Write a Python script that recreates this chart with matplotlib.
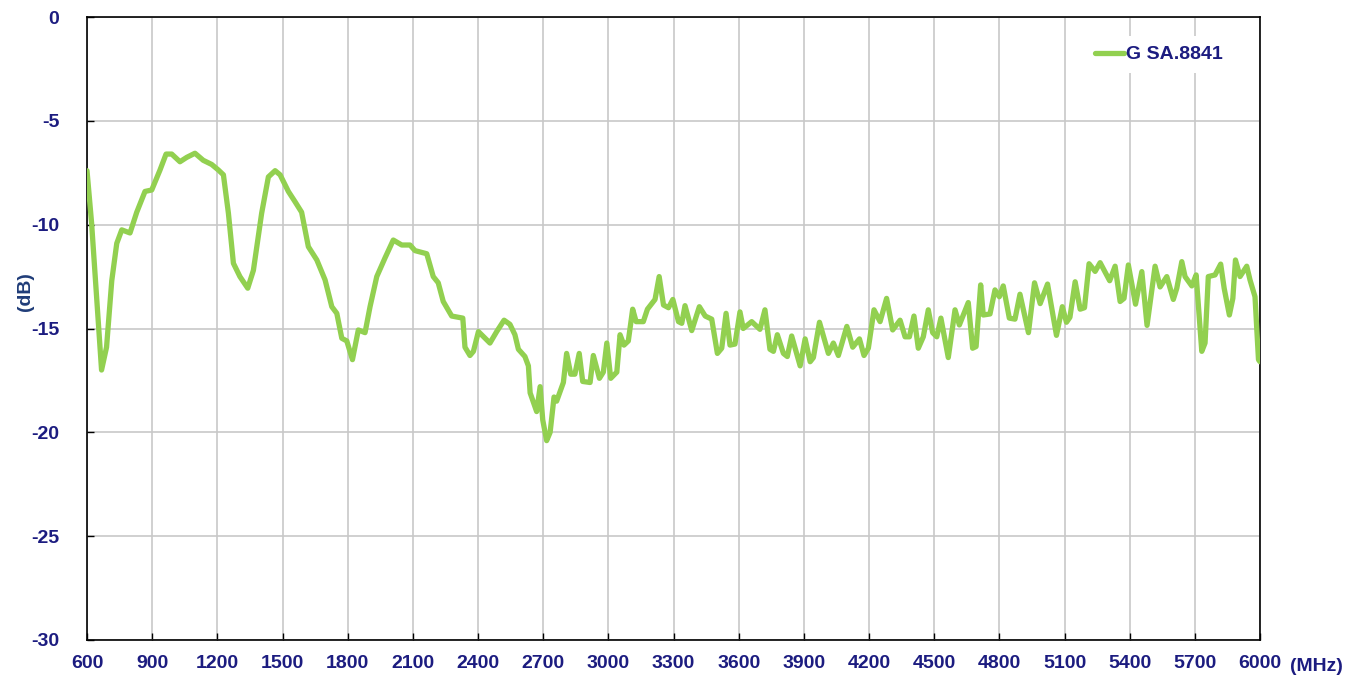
import matplotlib
matplotlib.use('Agg')
import matplotlib.pyplot as plt
import numpy as np

plt.rcParams['font.family'] = ['Liberation Sans', 'DejaVu Sans']
plt.rcParams['axes.unicode_minus'] = False

# frequency (MHz) and response (dB)
freq = [600, 621, 667, 690, 714, 737, 760, 798, 829, 867, 898, 936, 964, 990,
        1028, 1059, 1097, 1135, 1174, 1205, 1228, 1251, 1274, 1304, 1340, 1366,
        1404, 1435, 1466, 1489, 1527, 1558, 1588, 1619, 1658, 1696, 1727, 1750,
        1773, 1796, 1822, 1849, 1880, 1903, 1934, 1972, 2010, 2049, 2087, 2110,
        2164, 2194, 2217, 2240, 2279, 2330, 2340, 2363, 2379, 2402, 2455, 2486,
        2520, 2547, 2570, 2586, 2616, 2632, 2640, 2670, 2686, 2698, 2716, 2732,
        2750, 2762, 2793, 2808, 2827, 2846, 2866, 2882, 2916, 2931, 2959, 2977,
        2993, 3011, 3039, 3054, 3072, 3092, 3112, 3128, 3161, 3180, 3215, 3234,
        3254, 3277, 3297, 3323, 3338, 3353, 3384, 3419, 3446, 3476, 3502, 3522,
        3542, 3560, 3583, 3606, 3621, 3660, 3698, 3721, 3744, 3760, 3778, 3806,
        3824, 3844, 3883, 3906, 3929, 3944, 3972, 4013, 4036, 4059, 4098, 4125,
        4156, 4177, 4197, 4223, 4251, 4281, 4309, 4343, 4366, 4386, 4407, 4427,
        4450, 4473, 4493, 4512, 4531, 4565, 4596, 4616, 4657, 4677, 4693, 4714,
        4726, 4757, 4780, 4800, 4818, 4846, 4872, 4895, 4934, 4962, 4988, 5022,
        5063, 5090, 5109, 5125, 5149, 5172, 5192, 5213, 5241, 5264, 5308, 5333,
        5356, 5374, 5394, 5427, 5456, 5480, 5517, 5540, 5571, 5601, 5617, 5640,
        5655, 5686, 5706, 5732, 5747, 5762, 5793, 5819, 5835, 5859, 5875, 5887,
        5908, 5939, 5954, 5977, 5993, 6000]
gain = [-7.4, -9.9, -17.0, -15.9, -12.7, -10.9, -10.25, -10.4, -9.4, -8.4, -8.33,
        -7.37, -6.6, -6.6, -6.97, -6.76, -6.56, -6.9, -7.1, -7.37, -7.6, -9.45,
        -11.86, -12.5, -13.06, -12.2, -9.45, -7.7, -7.4, -7.6, -8.4, -8.9, -9.4,
        -11.06, -11.7, -12.66, -13.95, -14.27, -15.47, -15.6, -16.5, -15.07,
        -15.2, -13.95, -12.5, -11.6, -10.74, -10.98, -10.98, -11.25, -11.4,
        -12.5, -12.8, -13.7, -14.4, -14.5, -15.9, -16.3, -16.1, -15.15, -15.7,
        -15.15, -14.6, -14.8, -15.3, -16.0, -16.35, -16.8, -18.1, -19.0, -17.8,
        -19.4, -20.4, -20.0, -18.3, -18.5, -17.6, -16.2, -17.2, -17.2, -16.2,
        -17.55, -17.6, -16.3, -17.4, -17.1, -15.7, -17.4, -17.1, -15.3, -15.8,
        -15.6, -14.07, -14.67, -14.67, -14.07, -13.6, -12.5, -13.87, -14.0,
        -13.6, -14.67, -14.75, -13.9, -15.1, -13.95, -14.4, -14.55, -16.2,
        -15.95, -14.27, -15.8, -15.75, -14.2, -15.0, -14.67, -15.04, -14.1,
        -16.0, -16.1, -15.3, -16.2, -16.35, -15.36, -16.8, -15.5, -16.6, -16.4,
        -14.7, -16.2, -15.7, -16.3, -14.9, -15.9, -15.5, -16.3, -15.95, -14.1,
        -14.67, -13.55, -15.07, -14.6, -15.4, -15.4, -14.4, -15.95, -15.4,
        -14.1, -15.2, -15.4, -14.5, -16.4, -14.1, -14.83, -13.75, -15.95,
        -15.87, -12.9, -14.35, -14.3, -13.14, -13.47, -12.95, -14.5, -14.55,
        -13.35, -15.2, -12.8, -13.8, -12.86, -15.33, -13.95, -14.7, -14.46,
        -12.75, -14.07, -14.0, -11.88, -12.25, -11.83, -12.7, -12.0, -13.7,
        -13.55, -11.94, -13.83, -12.26, -14.85, -12.0, -13.0, -12.5, -13.6,
        -13.06, -11.78, -12.5, -12.95, -12.42, -16.1, -15.7, -12.5, -12.42,
        -11.9, -13.06, -14.35, -13.55, -11.7, -12.5, -12.0, -12.66, -13.47,
        -16.5, -16.6]

series_name = 'G SA.8841'
xticks = np.arange(600, 6001, 300)
yticks = np.arange(-30, 1, 5)

navy = '#1c1c80'

fig = plt.figure(figsize=(13.64, 6.8), dpi=100)
ax = fig.add_axes([87/1364, 40/680, 1173/1364, 623/680])

ax.plot(freq, gain, color='#92d050', lw=3.8, solid_joinstyle='round',
        solid_capstyle='round', label=series_name, zorder=3)

ax.set_xlim(600, 6000)
ax.set_ylim(-30, 0)
ax.set_xticks(xticks)
ax.set_yticks(yticks)
ax.grid(True, color='#c8c8c8', lw=1.2)
ax.set_axisbelow(True)
for s in ax.spines.values():
    s.set_color('black')
    s.set_linewidth(1.2)
ax.tick_params(direction='in', length=5, width=1, colors='black',
               labelcolor=navy, labelsize=14, pad=11)
for lab in ax.get_xticklabels() + ax.get_yticklabels():
    lab.set_fontweight('bold')
ax.tick_params(axis='y', pad=20)

ax.set_ylabel('(dB)', color='#1f3c78', fontsize=14, fontweight='bold')
ax.yaxis.set_label_coords(-0.045, 0.56)
ax.text(1.026, -0.042, '(MHz)', transform=ax.transAxes, color=navy,
        fontsize=14, fontweight='bold', ha='left', va='center')

leg = ax.legend(loc='upper right', bbox_to_anchor=(0.985, 0.985), frameon=True,
                fontsize=14, handlelength=1.5, handletextpad=0.1,
                borderpad=0.5)
leg.get_frame().set_edgecolor('none')
leg.get_frame().set_facecolor('white')
leg.get_frame().set_alpha(1)
for t in leg.get_texts():
    t.set_color(navy)
    t.set_fontweight('bold')

fig.savefig('out.png', dpi=100)
